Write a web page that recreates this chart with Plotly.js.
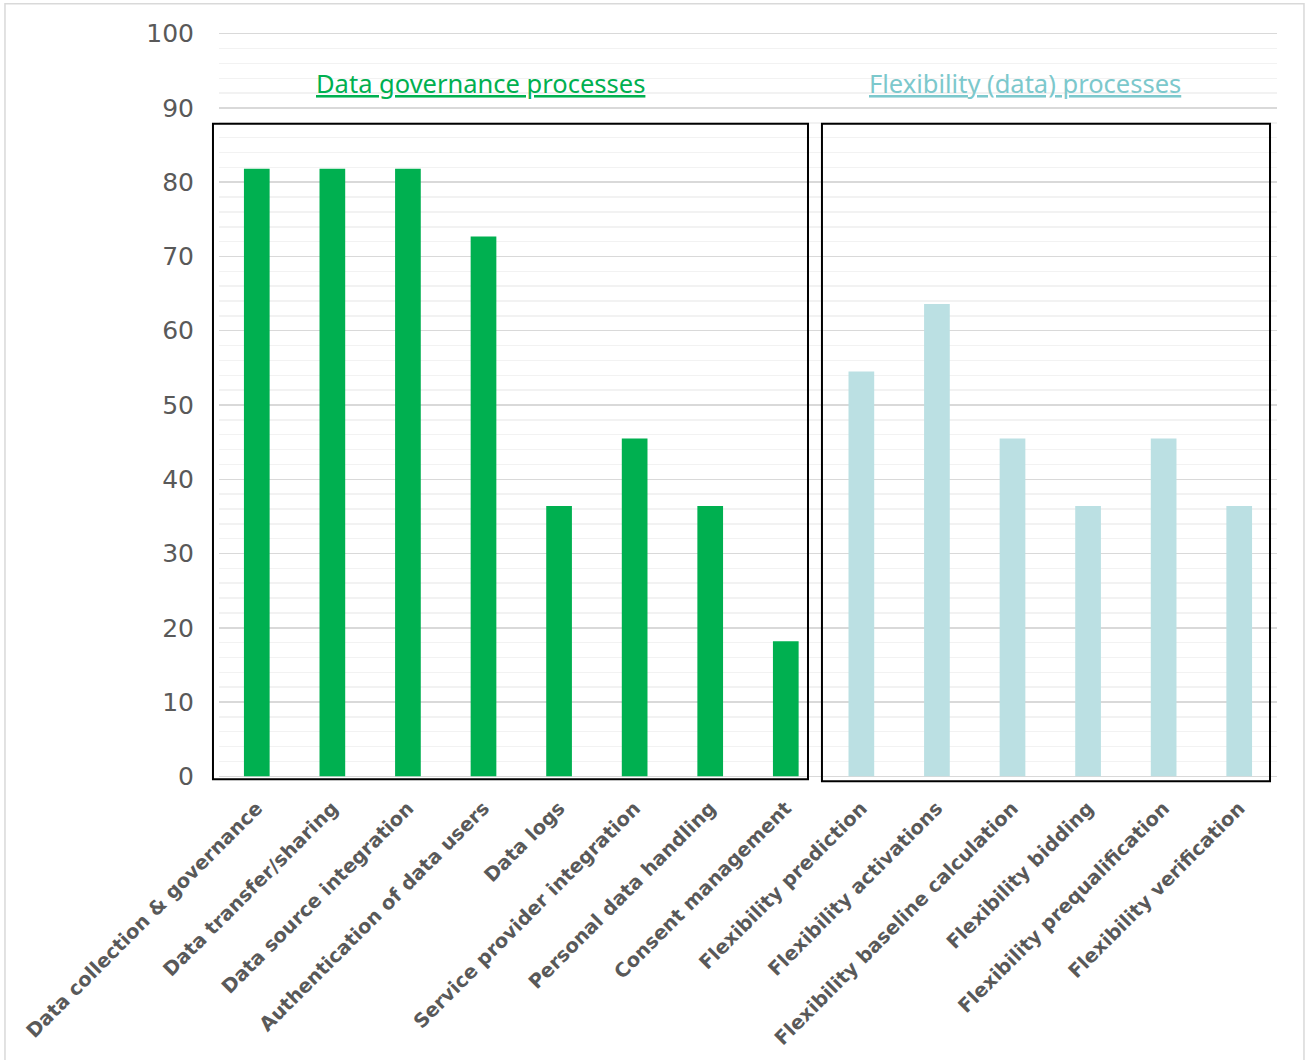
<!DOCTYPE html>
<html>
<head>
<meta charset="utf-8">
<script src="https://cdn.plot.ly/plotly-3.0.1.min.js"></script>
<style>html,body{margin:0;padding:0;background:#fff;}#chart{width:1306px;height:1060px;}</style>
</head>
<body>
<div id="chart"></div>
<script>
const governanceCategories = [
  "Data collection & governance",
  "Data transfer/sharing",
  "Data source integration",
  "Authentication of data users",
  "Data logs",
  "Service provider integration",
  "Personal data handling",
  "Consent management"
];
const governanceValues = [81.8, 81.8, 81.8, 72.7, 36.4, 45.5, 36.4, 18.2];

const flexibilityCategories = [
  "Flexibility prediction",
  "Flexibility activations",
  "Flexibility baseline calculation",
  "Flexibility bidding",
  "Flexibility prequalification",
  "Flexibility verification"
];
const flexibilityValues = [54.5, 63.6, 45.5, 36.4, 45.5, 36.4];

const groupTitles = ["Data governance processes", "Flexibility (data) processes"];
const yTickValues = [0, 10, 20, 30, 40, 50, 60, 70, 80, 90, 100];
const yMinorTickValues = [2,4,6,8,12,14,16,18,22,24,26,28,32,34,36,38,42,44,46,48,52,54,56,58,62,64,66,68,72,74,76,78,82,84,86,88,92,94,96,98];

const allCategories = governanceCategories.concat(flexibilityCategories);

const traces = [
  {type: 'bar', x: governanceCategories, y: governanceValues, marker: {color: '#00B050'}, hoverinfo: 'x+y', name: groupTitles[0]},
  {type: 'bar', x: flexibilityCategories, y: flexibilityValues, marker: {color: '#BBE0E3'}, hoverinfo: 'x+y', name: groupTitles[1]}
];

const layout = {
  width: 1306, height: 1060,
  margin: {l: 219, r: 29, t: 30.3, b: 280.3},
  paper_bgcolor: '#ffffff', plot_bgcolor: '#ffffff',
  showlegend: false,
  barmode: 'overlay',
  bargap: 0.66,
  xaxis: {
    type: 'category',
    categoryorder: 'array', categoryarray: allCategories,
    tickangle: -45,
    tickfont: {family: '"DejaVu Sans", Verdana, sans-serif', size: 19.5, color: '#595959', weight: 'bold'},
    ticklabelstandoff: 12,
    showgrid: false, zeroline: false, showline: false, ticks: '',
    automargin: false
  },
  yaxis: {
    range: [-0.5, 100.5],
    tickvals: yTickValues,
    tickfont: {family: '"DejaVu Sans", sans-serif', size: 25, color: '#595959'},
    ticklabelstandoff: 24,
    showgrid: true, gridcolor: '#D9D9D9', gridwidth: 1.5,
    zeroline: false, showline: false, ticks: '',
    minor: {tickvals: yMinorTickValues, showgrid: true, gridcolor: '#F2F2F2', gridwidth: 1.5},
    automargin: false
  },
  shapes: [
    {type: 'rect', xref: 'paper', yref: 'paper', x0: -0.2023, x1: 1.0255, y0: -0.5, y1: 1.035,
     line: {color: '#D9D9D9', width: 1.5}, fillcolor: 'rgba(0,0,0,0)', layer: 'below'},
    {type: 'rect', xref: 'paper', yref: 'paper', x0: -0.0057, x1: 0.5567, y0: 0.0009, y1: 0.875,
     line: {color: '#000000', width: 2}, fillcolor: 'rgba(0,0,0,0)'},
    {type: 'rect', xref: 'paper', yref: 'paper', x0: 0.5699, x1: 0.9934, y0: -0.0017, y1: 0.875,
     line: {color: '#000000', width: 2}, fillcolor: 'rgba(0,0,0,0)'}
  ],
  annotations: [
    {xref: 'paper', yref: 'paper', x: 0.2467, y: 0.9297, xanchor: 'center', yanchor: 'middle', showarrow: false,
     text: '<u>' + groupTitles[0] + '</u>', font: {family: 'Noto Sans', size: 25.5, color: '#00B050'}},
    {xref: 'paper', yref: 'paper', x: 0.7618, y: 0.9297, xanchor: 'center', yanchor: 'middle', showarrow: false,
     text: '<u>' + groupTitles[1] + '</u>', font: {family: 'Noto Sans', size: 25.5, color: '#7CC8CC'}}
  ]
};

Plotly.newPlot('chart', traces, layout, {displayModeBar: false, staticPlot: true});
</script>
</body>
</html>
